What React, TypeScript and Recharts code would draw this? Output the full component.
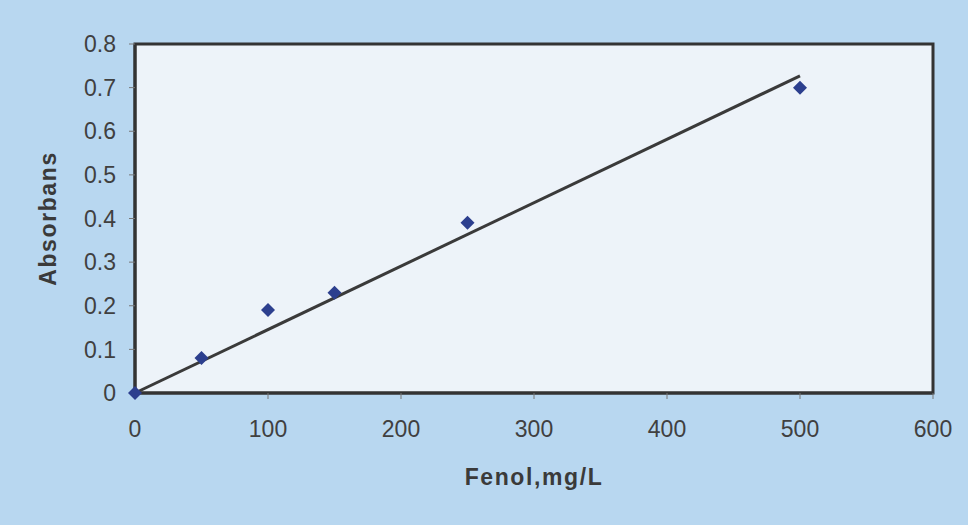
import {
  ComposedChart,
  ReferenceArea,
  Scatter,
  XAxis,
  YAxis,
  Label,
} from 'recharts';

// ölçüm noktaları (fenol derişimi, absorbans)
const fenol = [0, 50, 100, 150, 250, 500];
const absorbans = [0, 0.08, 0.19, 0.23, 0.39, 0.7];

// doğrusal trend çizgisinin uçları
const trendX = [0, 500];
const trendY = [0, 0.727];

const xTicks = [0, 100, 200, 300, 400, 500, 600];
const yTicks = [0, 0.1, 0.2, 0.3, 0.4, 0.5, 0.6, 0.7, 0.8];

const points = fenol.map((x, i) => ({ x, y: absorbans[i] }));
const trend = trendX.map((x, i) => ({ x, y: trendY[i] }));

const ink = '#333333';
const font = '"Liberation Sans", Arial, sans-serif';
const tickStyle = { fontSize: 23, fill: '#404040', fontFamily: font };
const titleStyle = { fontSize: 23, fontWeight: 'bold', fill: '#3a3a3a', fontFamily: font, letterSpacing: 1.6 };

function Diamond(props: any) {
  const { cx, cy } = props;
  const r = 7;
  return (
    <polygon
      points={`${cx},${cy - r} ${cx + r},${cy} ${cx},${cy + r} ${cx - r},${cy}`}
      fill="#2c3f8e"
    />
  );
}

export default function App() {
  return (
    <div
      style={{
        position: 'absolute',
        left: 0,
        top: 0,
        width: 968,
        height: 525,
        background: '#b8d7f0',
      }}
    >
      <ComposedChart width={968} height={525} margin={{ top: 44, right: 35, left: 75, bottom: 37 }}>
        <XAxis
          type="number"
          dataKey="x"
          domain={[0, 600]}
          ticks={xTicks}
          interval={0}
          tick={tickStyle}
          tickMargin={22}
          tickSize={6}
          axisLine={{ stroke: ink, strokeWidth: 3 }}
          tickLine={{ stroke: '#777' }}
          height={95}
        >
          <Label value="Fenol,mg/L" position="insideBottom" offset={3} style={titleStyle} />
        </XAxis>
        <YAxis
          type="number"
          dataKey="y"
          domain={[0, 0.8]}
          ticks={yTicks}
          interval={0}
          tick={tickStyle}
          tickMargin={13}
          tickSize={6}
          axisLine={{ stroke: ink, strokeWidth: 3 }}
          tickLine={{ stroke: '#777' }}
          width={60}
        >
          <Label
            value="Absorbans"
            angle={-90}
            position="insideLeft"
            offset={-27}
            style={{ ...titleStyle, textAnchor: 'middle' }}
          />
        </YAxis>
        <ReferenceArea
          x1={0}
          x2={600}
          y1={0}
          y2={0.8}
          fill="#edf3f9"
          fillOpacity={1}
          stroke={ink}
          strokeWidth={3}
        />
        <Scatter
          data={trend}
          line={{ stroke: '#3a3a3a', strokeWidth: 3 }}
          shape={() => <g />}
          isAnimationActive={false}
        />
        <Scatter data={points} shape={Diamond} isAnimationActive={false} />
      </ComposedChart>
    </div>
  );
}
